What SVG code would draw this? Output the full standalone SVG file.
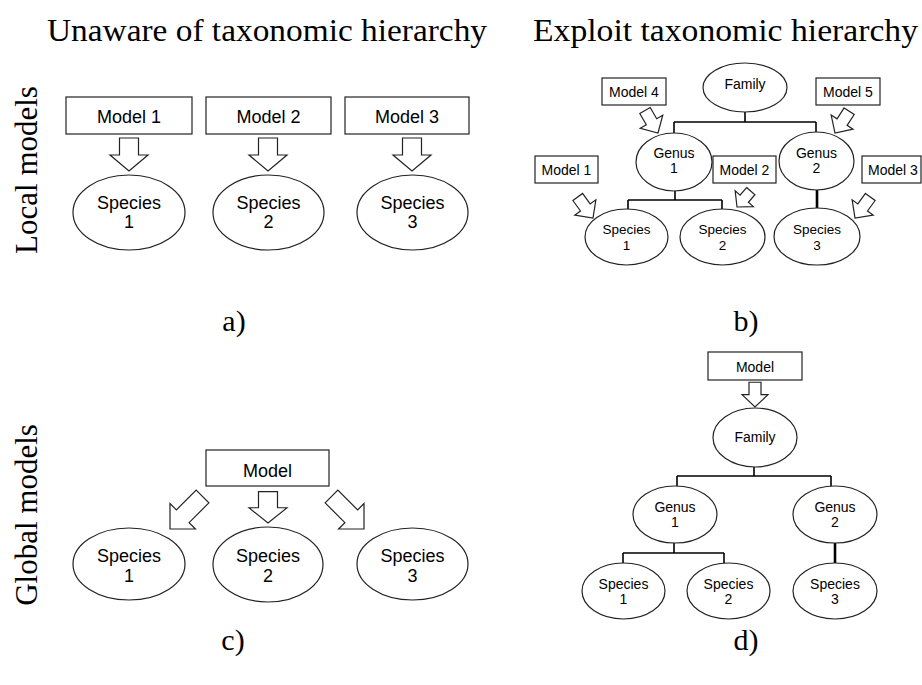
<svg xmlns="http://www.w3.org/2000/svg" xmlns:xlink="http://www.w3.org/1999/xlink" width="922" height="685" viewBox="0 0 922 685">
<style>
.bg{fill:#fff}
.box{fill:#fff;stroke:#222;stroke-width:1.2}
.ell{fill:#fff;stroke:#222;stroke-width:1.2}
.blk{fill:#fff;stroke:#222;stroke-width:1.2;stroke-linejoin:miter}
.tree{fill:none;stroke:#000;stroke-width:1.6}
.thick{fill:none;stroke:#000;stroke-width:2.6}
.big{font-family:"Liberation Sans",Arial,sans-serif;font-size:18px;fill:#000;text-anchor:middle}
.sm{font-family:"Liberation Sans",Arial,sans-serif;font-size:14px;fill:#000;text-anchor:middle}
.sm2{font-family:"Liberation Sans",Arial,sans-serif;font-size:13.5px;fill:#000;text-anchor:middle}
.ttl{font-family:"Liberation Serif","Times New Roman",serif;font-size:31px;fill:#000}
.lbl{font-family:"Liberation Serif","Times New Roman",serif;font-size:30px;fill:#000;text-anchor:middle}
</style>
<defs>
<path id="arrA" d="M-9.5,-33 H9.5 V-16 H19 L0,0 L-19,-16 H-9.5 Z"/>
<path id="arrC" d="M-9,-46 H9 V-18 H18 L0,0 L-18,-18 H-9 Z"/>
<path id="arrS" d="M-6,-26 H6 V-13 H13 L0,0 L-13,-13 H-6 Z"/>
<path id="arrT" d="M-5.5,-21 H5.5 V-11 H12 L0,0 L-12,-11 H-5.5 Z"/>
</defs>
<rect class="bg" x="0" y="0" width="922" height="685"/>

<g id="titles">
<text class="ttl" x="47" y="41" textLength="440" lengthAdjust="spacingAndGlyphs">Unaware of taxonomic hierarchy</text>
<text class="ttl" x="533" y="41" textLength="385" lengthAdjust="spacingAndGlyphs">Exploit taxonomic hierarchy</text>
<text class="ttl" text-anchor="middle" transform="translate(37,170) rotate(-90)">Local models</text>
<text class="ttl" text-anchor="middle" transform="translate(37,515) rotate(-90)">Global models</text>
</g>
<g id="panel-labels">
<text class="lbl" x="234" y="331">a)</text>
<text class="lbl" x="746" y="331">b)</text>
<text class="lbl" x="233" y="650">c)</text>
<text class="lbl" x="746" y="650">d)</text>
</g>

<g id="connectors">
<!-- panel a -->
<use xlink:href="#arrA" class="blk" transform="translate(129,171)"/>
<use xlink:href="#arrA" class="blk" transform="translate(268,171)"/>
<use xlink:href="#arrA" class="blk" transform="translate(412,171)"/>
<!-- panel b tree -->
<path class="tree" d="M745,112 V122 M674,122 H816 M674,122 V133 M816,122 V132"/>
<path class="tree" d="M675,191 V200 M628,200 H722 M628,200 V209 M722,200 V209"/>
<path class="thick" d="M817,189 V208"/>
<!-- panel b arrows -->
<use xlink:href="#arrS" class="blk" transform="translate(658,133) rotate(-30)"/>
<use xlink:href="#arrS" class="blk" transform="translate(835,133) rotate(33)"/>
<use xlink:href="#arrS" class="blk" transform="translate(593,218) rotate(-36)"/>
<use xlink:href="#arrT" class="blk" transform="translate(737,207) rotate(41)"/>
<use xlink:href="#arrS" class="blk" transform="translate(855,218) rotate(36)"/>
<!-- panel c -->
<use xlink:href="#arrA" class="blk" transform="translate(268,523) scale(1,0.95)"/>
<use xlink:href="#arrC" class="blk" transform="translate(170,529) rotate(45)"/>
<use xlink:href="#arrC" class="blk" transform="translate(364,529) rotate(-45)"/>
<!-- panel d -->
<use xlink:href="#arrS" class="blk" transform="translate(755,407) scale(1,0.95)"/>
<path class="tree" d="M754,467 V476 M677,476 H831 M677,476 V486 M831,476 V486"/>
<path class="tree" d="M674,543 V553 M623,553 H724 M623,553 V563 M724,553 V563"/>
<path class="thick" d="M835,543 V563"/>
</g>

<!-- panel a nodes -->
<g id="a-model1"><rect class="box" x="66" y="97" width="126" height="37"/><text class="big" x="129" y="123">Model 1</text></g>
<g id="a-model2"><rect class="box" x="206" y="97" width="125" height="37"/><text class="big" x="268.5" y="123">Model 2</text></g>
<g id="a-model3"><rect class="box" x="345" y="97" width="124" height="37"/><text class="big" x="407" y="123">Model 3</text></g>
<g id="a-species1"><ellipse class="ell" cx="129" cy="212.5" rx="56" ry="37.5"/><text class="big" x="129" y="209">Species</text><text class="big" x="129" y="228">1</text></g>
<g id="a-species2"><ellipse class="ell" cx="268.5" cy="212.5" rx="55.5" ry="37.5"/><text class="big" x="268.5" y="209">Species</text><text class="big" x="268.5" y="228">2</text></g>
<g id="a-species3"><ellipse class="ell" cx="412.5" cy="212.5" rx="55.5" ry="37.5"/><text class="big" x="412.5" y="209">Species</text><text class="big" x="412.5" y="228">3</text></g>

<!-- panel b nodes -->
<g id="b-family"><ellipse class="ell" cx="745" cy="87.5" rx="42" ry="24.5"/><text class="sm" x="745" y="89">Family</text></g>
<g id="b-genus1"><ellipse class="ell" cx="674" cy="162" rx="38" ry="29"/><text class="sm" x="674" y="158">Genus</text><text class="sm" x="674" y="173">1</text></g>
<g id="b-genus2"><ellipse class="ell" cx="816.5" cy="161" rx="37.5" ry="29"/><text class="sm" x="816.5" y="158">Genus</text><text class="sm" x="816.5" y="173">2</text></g>
<g id="b-species1"><ellipse class="ell" cx="626.5" cy="237" rx="41.5" ry="28"/><text class="sm2" x="626.5" y="234">Species</text><text class="sm2" x="626.5" y="249.5">1</text></g>
<g id="b-species2"><ellipse class="ell" cx="722.5" cy="237" rx="42.5" ry="28"/><text class="sm2" x="722.5" y="234">Species</text><text class="sm2" x="722.5" y="249.5">2</text></g>
<g id="b-species3"><ellipse class="ell" cx="817" cy="236.5" rx="43" ry="28.5"/><text class="sm2" x="817" y="234">Species</text><text class="sm2" x="817" y="249.5">3</text></g>
<g id="b-model4"><rect class="box" x="602" y="78" width="64" height="27"/><text class="sm" x="634" y="97">Model 4</text></g>
<g id="b-model5"><rect class="box" x="816" y="78" width="64" height="27"/><text class="sm" x="848" y="97">Model 5</text></g>
<g id="b-model1"><rect class="box" x="535" y="156" width="63" height="27"/><text class="sm" x="566.5" y="175">Model 1</text></g>
<g id="b-model2"><rect class="box" x="713" y="156" width="63" height="27"/><text class="sm" x="744.5" y="175">Model 2</text></g>
<g id="b-model3"><rect class="box" x="862" y="156" width="59" height="27"/><text class="sm" x="893" y="175">Model 3</text></g>

<!-- panel c nodes -->
<g id="c-model"><rect class="box" x="206" y="450" width="123" height="36"/><text class="big" x="267.5" y="477">Model</text></g>
<g id="c-species1"><ellipse class="ell" cx="129" cy="564" rx="56" ry="36"/><text class="big" x="129" y="562">Species</text><text class="big" x="129" y="581.5">1</text></g>
<g id="c-species2"><ellipse class="ell" cx="268" cy="564.5" rx="55" ry="37.5"/><text class="big" x="268" y="562">Species</text><text class="big" x="268" y="581.5">2</text></g>
<g id="c-species3"><ellipse class="ell" cx="412.5" cy="564" rx="55.5" ry="36"/><text class="big" x="412.5" y="562">Species</text><text class="big" x="412.5" y="581.5">3</text></g>

<!-- panel d nodes -->
<g id="d-model"><rect class="box" x="708" y="352" width="94" height="28"/><text class="sm" x="755" y="372">Model</text></g>
<g id="d-family"><ellipse class="ell" cx="755" cy="437.5" rx="42" ry="29.5"/><text class="sm" x="755" y="442">Family</text></g>
<g id="d-genus1"><ellipse class="ell" cx="675" cy="514.5" rx="42" ry="28.5"/><text class="sm" x="675" y="512">Genus</text><text class="sm" x="675" y="527">1</text></g>
<g id="d-genus2"><ellipse class="ell" cx="835" cy="514.5" rx="42" ry="28.5"/><text class="sm" x="835" y="512">Genus</text><text class="sm" x="835" y="527">2</text></g>
<g id="d-species1"><ellipse class="ell" cx="623.5" cy="591" rx="41.5" ry="28"/><text class="sm" x="623.5" y="589">Species</text><text class="sm" x="623.5" y="604">1</text></g>
<g id="d-species2"><ellipse class="ell" cx="728.5" cy="591" rx="41.5" ry="28"/><text class="sm" x="728.5" y="589">Species</text><text class="sm" x="728.5" y="604">2</text></g>
<g id="d-species3"><ellipse class="ell" cx="835" cy="591" rx="42" ry="28"/><text class="sm" x="835" y="589">Species</text><text class="sm" x="835" y="604">3</text></g>
</svg>
